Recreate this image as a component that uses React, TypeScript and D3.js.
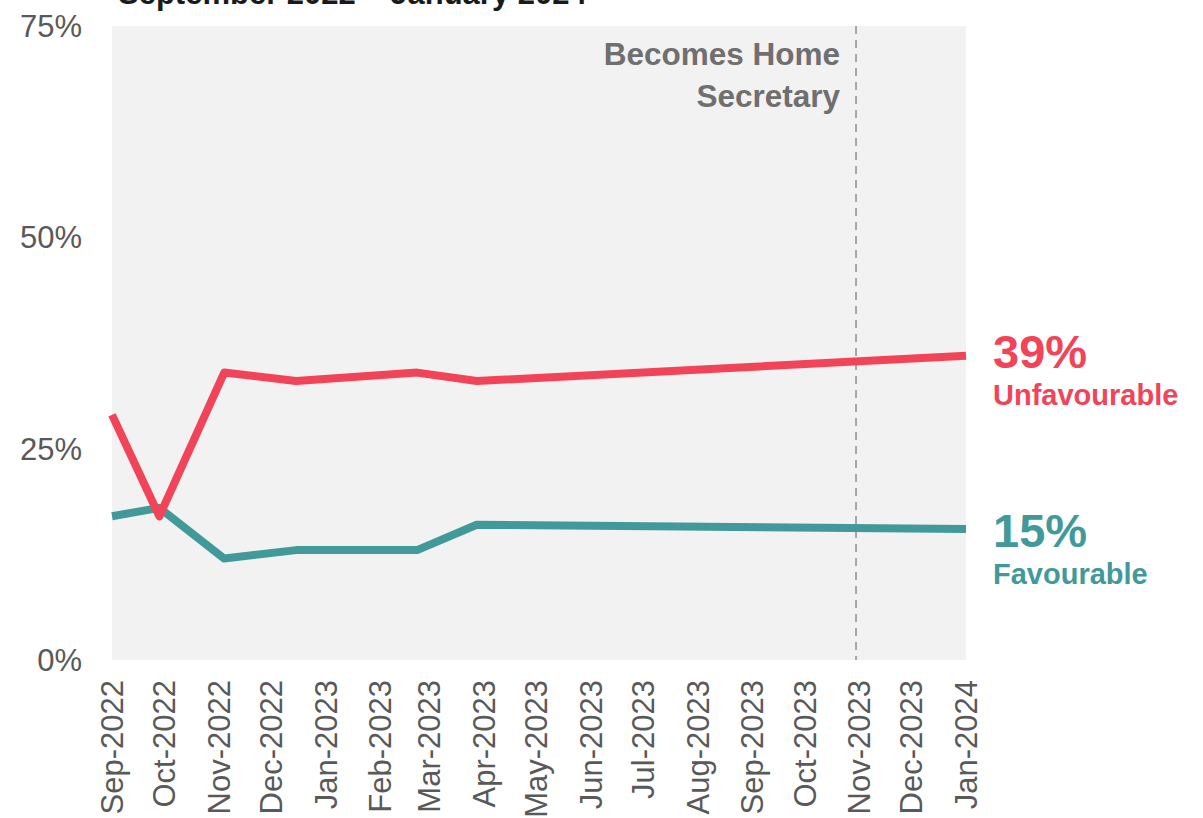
import * as d3 from 'd3';
import React, { useEffect, useRef } from 'react';

const dates = ['2022-09-01', '2022-09-28', '2022-11-04', '2022-12-15', '2023-02-22', '2023-03-28', '2024-01-01'];
const unfavourable = [29, 17, 34, 33, 34, 33, 36];
const favourable = [17, 18, 12, 13, 13, 16, 15.5];
const yTicks = [0, 25, 50, 75];
const eventDate = '2023-11-01';

const RED = '#f24459';
const TEAL = '#419a99';
const GREY = '#595959';
const FONT = '"Liberation Sans", Arial, sans-serif';

const Chart = () => {
	const svgRef = useRef(null);

	useEffect(() => {
		const width = 1203;
		const height = 818;
		const margin = { top: 26, right: 237, bottom: 158, left: 112 };
		const w = width - margin.left - margin.right;
		const h = height - margin.top - margin.bottom;

		const svg = d3.select(svgRef.current);
		svg.selectAll('*').remove();

		const parse = d3.timeParse('%Y-%m-%d');
		const x = d3.scaleTime()
			.domain([parse('2022-09-01'), parse('2024-01-01')])
			.range([0, w]);
		const y = d3.scaleLinear().domain([0, 75]).range([h, 0]);

		// title, mostly cut off by the top edge
		svg.append('text')
			.attr('x', 118)
			.attr('y', 4)
			.attr('dominant-baseline', 'alphabetic')
			.attr('font-family', FONT)
			.attr('font-weight', 'bold')
			.attr('font-size', 31)
			.attr('fill', '#1a1a1a')
			.text('September 2022 – January 2024');

		const g = svg.append('g').attr('transform', `translate(${margin.left},${margin.top})`);

		g.append('rect')
			.attr('width', w)
			.attr('height', h)
			.attr('fill', '#f2f2f2');

		// y axis labels
		g.append('g')
			.selectAll('text')
			.data(yTicks)
			.join('text')
			.attr('x', -30)
			.attr('y', (d) => y(d))
			.attr('dy', '0.35em')
			.attr('text-anchor', 'end')
			.attr('font-family', FONT)
			.attr('font-size', 31)
			.attr('fill', GREY)
			.text((d) => `${d}%`);

		// x axis labels
		const months = d3.timeMonth.range(parse('2022-09-01'), parse('2024-01-02'));
		const fmt = d3.timeFormat('%b-%Y');
		g.append('g')
			.selectAll('text')
			.data(months)
			.join('text')
			.attr('transform', (d) => `translate(${x(d)},${h + 20}) rotate(-90)`)
			.attr('dy', '0.35em')
			.attr('text-anchor', 'end')
			.attr('font-family', FONT)
			.attr('font-size', 31)
			.attr('fill', GREY)
			.text((d) => fmt(d));

		// event marker
		const ex = x(parse(eventDate)) - 3;
		g.append('line')
			.attr('x1', ex)
			.attr('x2', ex)
			.attr('y1', 0)
			.attr('y2', h)
			.attr('stroke', '#a6a6a6')
			.attr('stroke-width', 2)
			.attr('stroke-dasharray', '8,6');

		const note = g.append('text')
			.attr('x', ex - 16)
			.attr('y', 39)
			.attr('text-anchor', 'end')
			.attr('font-family', FONT)
			.attr('font-weight', 'bold')
			.attr('font-size', 31.5)
			.attr('fill', '#6f6f6f');
		note.append('tspan').attr('x', ex - 16).text('Becomes Home');
		note.append('tspan').attr('x', ex - 16).attr('dy', 42).text('Secretary');

		const line = d3.line<number>()
			.x((_, i) => x(parse(dates[i])))
			.y((d) => y(d));

		const series = [
			{ values: unfavourable, color: RED },
			{ values: favourable, color: TEAL },
		];
		g.append('g')
			.selectAll('path')
			.data(series.reverse())
			.join('path')
			.attr('d', (d) => line(d.values))
			.attr('fill', 'none')
			.attr('stroke', (d) => d.color)
			.attr('stroke-width', 8)
			.attr('stroke-linejoin', 'round');

		// end labels
		const labels = [
			{ big: '39%', small: 'Unfavourable', color: RED, y: 368 },
			{ big: '15%', small: 'Favourable', color: TEAL, y: 547 },
		];
		const lab = g.append('g')
			.selectAll('g')
			.data(labels)
			.join('g')
			.attr('transform', (d) => `translate(${w + 27},${d.y - margin.top})`);
		lab.append('text')
			.attr('font-family', FONT)
			.attr('font-weight', 'bold')
			.attr('font-size', 47)
			.attr('fill', (d) => d.color)
			.text((d) => d.big);
		lab.append('text')
			.attr('y', 37)
			.attr('font-family', FONT)
			.attr('font-weight', 'bold')
			.attr('font-size', 29)
			.attr('fill', (d) => d.color)
			.text((d) => d.small);
	}, []);

	return (
		<svg ref={svgRef} width={1203} height={818} style={{ display: 'block', position: 'absolute', left: 0, top: 0 }} />
	);
};

export default function App() {
	return (
		<div>
			<Chart />
		</div>
	);
}
